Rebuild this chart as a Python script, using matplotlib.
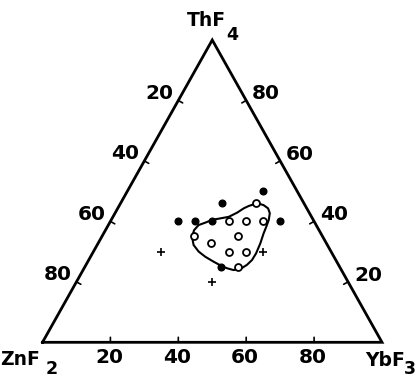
import numpy as np
import matplotlib
matplotlib.use("Agg")
import matplotlib.pyplot as plt
from matplotlib.transforms import offset_copy

# Compositions in mol% as (ThF4, YbF3); ZnF2 is the remainder
glass_thf4 = [46, 40, 40, 40, 35, 33, 35, 30, 30, 25]
glass_ybf3 = [40, 35, 40, 45, 27, 33, 40, 40, 45, 45]

cryst_thf4 = [40, 40, 40, 46, 50, 40, 25]
cryst_ybf3 = [20, 25, 30, 30, 40, 50, 40]

partial_thf4 = [30, 30, 20]
partial_ybf3 = [20, 50, 40]

# Outline of the glass-forming region
region_thf4 = [46.0, 45.4, 44.3, 42.7, 40.5, 38.2, 36.1, 32.7, 29.4, 27.2,
               25.6, 24.2, 23.9, 24.5, 25.2, 26.7, 28.3, 30.0, 32.2, 34.9,
               37.1, 38.8, 39.6, 40.5, 41.0, 41.5, 42.9, 44.3, 45.1]
region_ybf3 = [40.2, 42.4, 44.3, 45.6, 46.4, 46.8, 47.1, 47.8, 48.2, 48.1,
               47.4, 46.1, 44.3, 42.1, 40.2, 37.0, 33.8, 31.0, 28.4, 26.6,
               26.1, 26.6, 28.2, 29.7, 31.9, 34.1, 35.9, 37.1, 38.2]

tick_values = [20, 40, 60, 80]
tick_labels = ["20", "40", "60", "80"]

H = 0.8904  # triangle height relative to its base


def tern(thf4, ybf3):
    t = np.asarray(thf4, float) / 100.0
    b = np.asarray(ybf3, float) / 100.0
    return b + t / 2.0, t * H


W, HGT, DPI = 418, 380, 100
fig = plt.figure(figsize=(W / DPI, HGT / DPI), dpi=DPI)
ax = fig.add_axes([0, 0, 1, 1])
scale = 339.5
x0_px, y0_px = 42.5, 37.7
ax.set_xlim(-x0_px / scale, (W - x0_px) / scale)
ax.set_ylim(-y0_px / scale, (HGT - y0_px) / scale)
ax.axis("off")

ink = "black"
font = dict(family="DejaVu Sans", weight="bold", size=14.5, color=ink)
corner_font = dict(family="DejaVu Sans", weight="bold", size=13.5, color=ink)
sub_font = dict(family="DejaVu Sans", weight="bold", size=12.5, color=ink)

# Triangle frame
A = (0.0, 0.0)      # ZnF2
B = (1.0, 0.0)      # YbF3
C = (0.5, H)        # ThF4
ax.plot([A[0], B[0], C[0], A[0]], [A[1], B[1], C[1], A[1]],
        color=ink, lw=2.0, solid_joinstyle="miter", zorder=2)


def off(dx, dy):
    return offset_copy(ax.transData, fig=fig, x=dx, y=-dy, units="dots")


def tick(px, py, dx, dy):
    ax.annotate("", xy=(px, py), xytext=(dx, dy), textcoords="offset pixels",
                arrowprops=dict(arrowstyle="-", lw=1.2, color=ink,
                                shrinkA=0, shrinkB=0))


tick_len = 5.0
for v, lab in zip(tick_values, tick_labels):
    # bottom edge: YbF3 percentage
    px, py = tern(0, v)
    tick(px, py, 0, tick_len)
    ax.text(px, py, lab, ha="center", va="center", transform=off(-1, 15), **font)

    # left edge: ZnF2 percentage
    px, py = tern(100 - v, 0)
    tick(px, py, tick_len * 0.87, -tick_len * 0.49)
    ax.text(px, py, lab, ha="center", va="center", transform=off(-19, -7), **font)

    # right edge: ThF4 percentage
    px, py = tern(v, 100 - v)
    tick(px, py, -tick_len * 0.87, -tick_len * 0.49)
    ax.text(px, py, lab, ha="center", va="center", transform=off(20, -6.5), **font)

# Corner labels
ax.text(*C, "ThF", ha="center", va="center", transform=off(-5.5, -19.5), **corner_font)
ax.text(*C, "4", ha="center", va="center", transform=off(20.3, -5), **sub_font)
ax.text(*A, "ZnF", ha="center", va="center", transform=off(-22, 17), **corner_font)
ax.text(*A, "2", ha="center", va="center", transform=off(9.5, 27), **sub_font)
ax.text(*B, "YbF", ha="center", va="center", transform=off(3.5, 17.7), **corner_font)
ax.text(*B, "3", ha="center", va="center", transform=off(27.5, 27), **sub_font)

# Glass-forming region outline
rx, ry = tern(region_thf4 + region_thf4[:1], region_ybf3 + region_ybf3[:1])
ax.plot(rx, ry, color=ink, lw=1.5, solid_joinstyle="round", zorder=3)

# Data points
gx, gy = tern(glass_thf4, glass_ybf3)
ax.plot(gx, gy, "o", ms=5.0, mfc="white", mec=ink, mew=1.3, ls="none", zorder=4)
cx, cy = tern(cryst_thf4, cryst_ybf3)
ax.plot(cx, cy, "o", ms=4.8, mfc=ink, mec=ink, ls="none", zorder=4)
px_, py_ = tern(partial_thf4, partial_ybf3)
ax.plot(px_, py_, "+", ms=5.5, mec=ink, mew=1.2, ls="none", zorder=4)

fig.savefig("out.png", dpi=DPI, facecolor="white")
